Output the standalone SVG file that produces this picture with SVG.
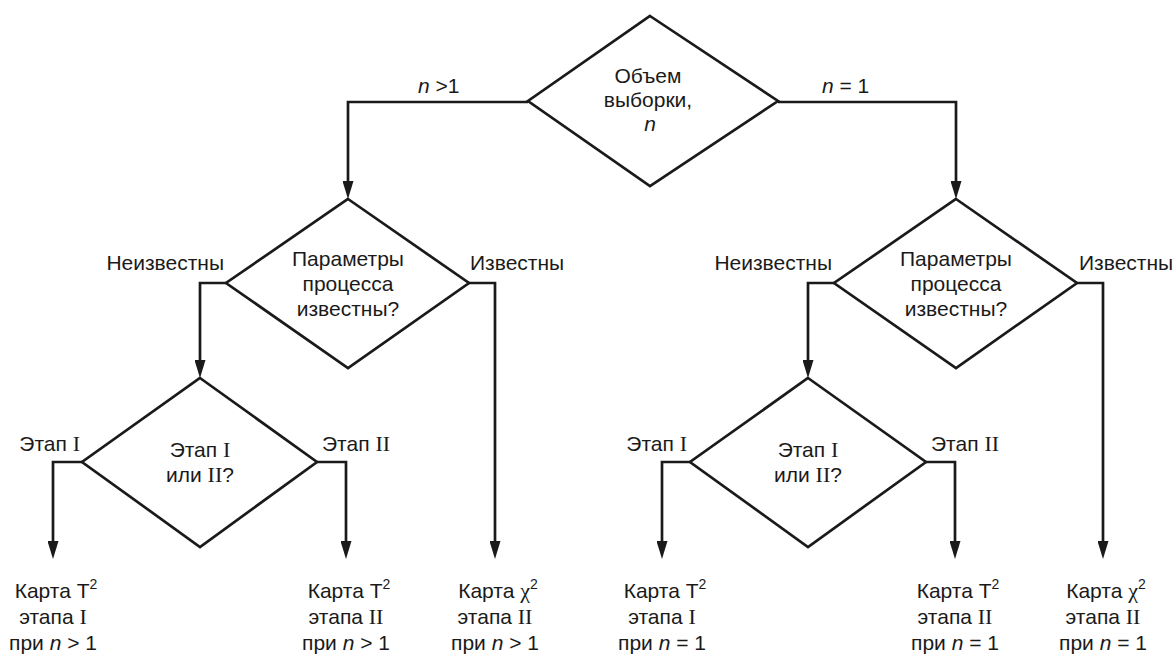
<svg xmlns="http://www.w3.org/2000/svg" width="1175" height="655" viewBox="0 0 1175 655">
<defs>
<style>
.shape{fill:none;stroke:#1a1a1a;stroke-width:2.7;stroke-linejoin:miter}
.conn{fill:none;stroke:#1a1a1a;stroke-width:2.7}
text{font-family:"Liberation Sans",Arial,sans-serif;font-size:21px;fill:#1a1a1a}
.c{text-anchor:middle}
.e{text-anchor:end}
.r{font-family:"Liberation Serif","Times New Roman",serif;font-size:22px}
.i{font-style:italic}
.sup{font-size:14px}
</style>
<marker id="arr" viewBox="0 0 18 11" refX="8" refY="5.5" markerWidth="18" markerHeight="11" markerUnits="userSpaceOnUse" orient="auto">
<path d="M0,0 L18,5.5 L0,11 z" fill="#1a1a1a"/>
</marker>
</defs>
<rect width="1175" height="655" fill="#ffffff"/>

<g id="connectors">
<path class="conn" d="M528,102 H348 V189" marker-end="url(#arr)"/>
<path class="conn" d="M778,102 H956 V189" marker-end="url(#arr)"/>
<path class="conn" d="M226,283 H200 V368" marker-end="url(#arr)"/>
<path class="conn" d="M468,283 H495 V549" marker-end="url(#arr)"/>
<path class="conn" d="M82,462 H53 V549" marker-end="url(#arr)"/>
<path class="conn" d="M317,462 H346 V549" marker-end="url(#arr)"/>
<path class="conn" d="M834,283 H808 V368" marker-end="url(#arr)"/>
<path class="conn" d="M1077,283 H1103 V549" marker-end="url(#arr)"/>
<path class="conn" d="M690,462 H662 V549" marker-end="url(#arr)"/>
<path class="conn" d="M926,462 H955 V549" marker-end="url(#arr)"/>
<text x="418" y="93"><tspan class="i">n</tspan> &gt;1</text>
<text x="822" y="93"><tspan class="i">n</tspan> = 1</text>
<text class="e" x="224" y="270">Неизвестны</text>
<text x="470" y="270">Известны</text>
<text class="e" x="832" y="270">Неизвестны</text>
<text x="1079" y="270">Известны</text>
<text class="e" x="80" y="451">Этап <tspan class="r">I</tspan></text>
<text x="322" y="451">Этап <tspan class="r">II</tspan></text>
<text class="e" x="687" y="451">Этап <tspan class="r">I</tspan></text>
<text x="931" y="451">Этап <tspan class="r">II</tspan></text>
</g>

<g id="n-size">
<polygon class="shape" points="650,16 778,101 650,186 528,101"/>
<text class="c" x="648" y="83">Объем</text>
<text class="c" x="648" y="107">выборки,</text>
<text class="c i" x="650" y="131">n</text>
</g>

<g id="params-left">
<polygon class="shape" points="348,199 469,283 348,368 226,283"/>
<text class="c" x="348" y="266">Параметры</text>
<text class="c" x="348" y="291">процесса</text>
<text class="c" x="348" y="316">известны?</text>
</g>

<g id="params-right">
<polygon class="shape" points="956,199 1077,283 956,368 834,283"/>
<text class="c" x="956" y="266">Параметры</text>
<text class="c" x="956" y="291">процесса</text>
<text class="c" x="956" y="316">известны?</text>
</g>

<g id="stage-left">
<polygon class="shape" points="200,378 317,462 200,547 82,462"/>
<text class="c" x="200" y="457">Этап <tspan class="r">I</tspan></text>
<text class="c" x="200" y="482">или <tspan class="r">II</tspan>?</text>
</g>

<g id="stage-right">
<polygon class="shape" points="808,378 926,462 808,547 690,462"/>
<text class="c" x="808" y="457">Этап <tspan class="r">I</tspan></text>
<text class="c" x="808" y="482">или <tspan class="r">II</tspan>?</text>
</g>

<g id="t2-stage1-n-gt-1">
<text class="c" x="56" y="598">Карта T<tspan class="sup" dy="-9">2</tspan></text>
<text class="c" x="53" y="624">этапа <tspan class="r">I</tspan></text>
<text class="c" x="53" y="650">при <tspan class="i">n</tspan> &gt; 1</text>
</g>

<g id="t2-stage2-n-gt-1">
<text class="c" x="349" y="598">Карта T<tspan class="sup" dy="-9">2</tspan></text>
<text class="c" x="346" y="624">этапа <tspan class="r">II</tspan></text>
<text class="c" x="346" y="650">при <tspan class="i">n</tspan> &gt; 1</text>
</g>

<g id="chi2-stage2-n-gt-1">
<text class="c" x="498" y="598">Карта <tspan class="r">χ</tspan><tspan class="sup" dy="-9">2</tspan></text>
<text class="c" x="495" y="624">этапа <tspan class="r">II</tspan></text>
<text class="c" x="495" y="650">при <tspan class="i">n</tspan> &gt; 1</text>
</g>

<g id="t2-stage1-n-eq-1">
<text class="c" x="665" y="598">Карта T<tspan class="sup" dy="-9">2</tspan></text>
<text class="c" x="662" y="624">этапа <tspan class="r">I</tspan></text>
<text class="c" x="662" y="650">при <tspan class="i">n</tspan> = 1</text>
</g>

<g id="t2-stage2-n-eq-1">
<text class="c" x="958" y="598">Карта T<tspan class="sup" dy="-9">2</tspan></text>
<text class="c" x="955" y="624">этапа <tspan class="r">II</tspan></text>
<text class="c" x="955" y="650">при <tspan class="i">n</tspan> = 1</text>
</g>

<g id="chi2-stage2-n-eq-1">
<text class="c" x="1106" y="598">Карта <tspan class="r">χ</tspan><tspan class="sup" dy="-9">2</tspan></text>
<text class="c" x="1103" y="624">этапа <tspan class="r">II</tspan></text>
<text class="c" x="1103" y="650">при <tspan class="i">n</tspan> = 1</text>
</g>
</svg>
